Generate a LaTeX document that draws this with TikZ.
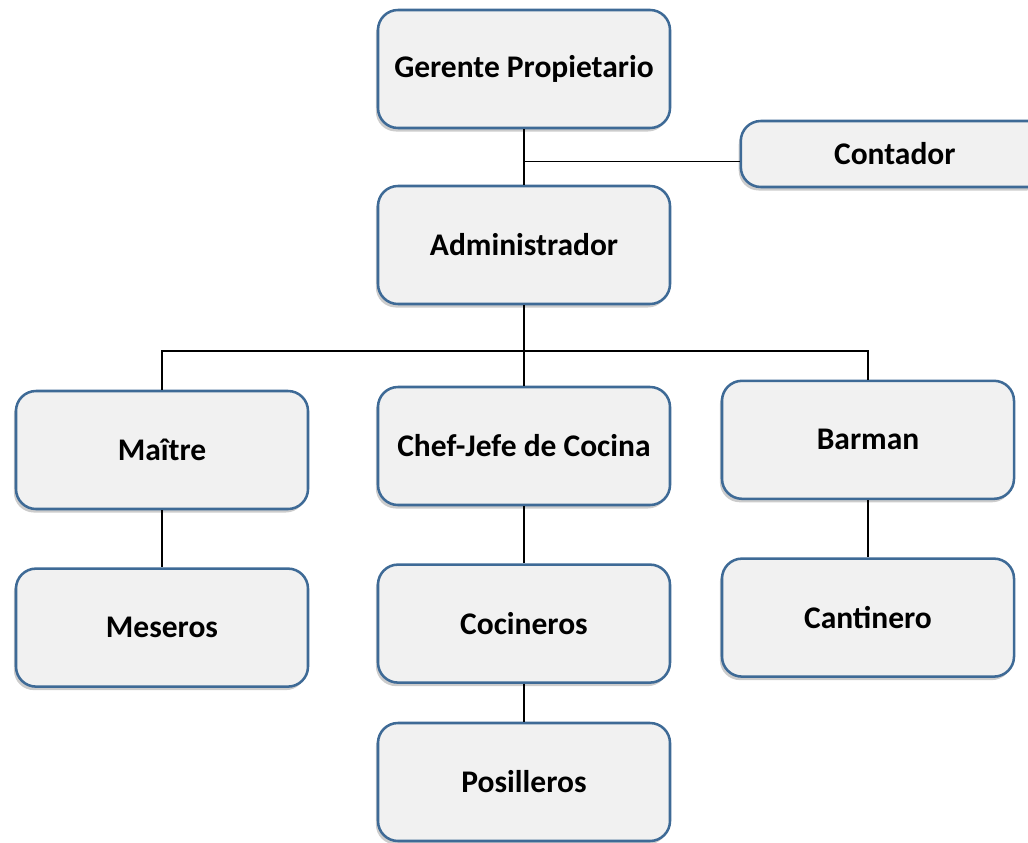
\documentclass[tikz,border=0pt]{standalone}
\usepackage{fontspec}
\setmainfont{Carlito}
\usetikzlibrary{shadows}
\definecolor{boxline}{HTML}{3E6A96}
\definecolor{boxfill}{HTML}{F1F1F1}

\begin{document}
\begin{tikzpicture}[
			puesto/.style={rectangle, draw=boxline, line width=1.8pt, rounded corners=0.5cm,
				fill=boxfill, align=center, minimum width=7.3cm, minimum height=2.95cm,
				font=\fontsize{22.4}{26}\selectfont\bfseries,
				drop shadow={opacity=0.4, shadow xshift=-1.5pt, shadow yshift=-2.5pt}},
			lin/.style={black, line width=0.8pt}
		]
			\useasboundingbox (0,0) rectangle (25.7,-21.05);

			\node[puesto] (ger) at (13.1,-1.725) {Gerente Propietario};
			\node[puesto, minimum height=1.65cm, minimum width=7.7cm] (con) at (22.37,-3.85) {Contador};
			\node[puesto] (adm) at (13.1,-6.125) {Administrador};
			\node[puesto] (mai) at (4.05,-11.25) {Maître};
			\node[puesto] (chef) at (13.1,-11.15) {Chef-Jefe de Cocina};
			\node[puesto] (bar) at (21.7,-10.995) {Barman};
			\node[puesto] (mes) at (4.05,-15.69) {Meseros};
			\node[puesto] (coc) at (13.1,-15.59) {Cocineros};
			\node[puesto] (can) at (21.7,-15.44) {Cantinero};
			\node[puesto] (pos) at (13.1,-19.55) {Posilleros};

			\coordinate (jct) at (13.1,-4.03);
			\coordinate (bus) at (13.1,-8.775);

			\draw[lin] (ger) -- (adm);
			\draw[lin] (jct) -- (jct -| con.west);
			\draw[lin] (adm) -- (chef);
			\draw[lin] (mai.north) |- (bus) -| (bar.north);
			\draw[lin] (mai) -- (mes);
			\draw[lin] (chef) -- (coc);
			\draw[lin] (coc) -- (pos);
			\draw[lin] (bar) -- (can);
		\end{tikzpicture}
\end{document}
